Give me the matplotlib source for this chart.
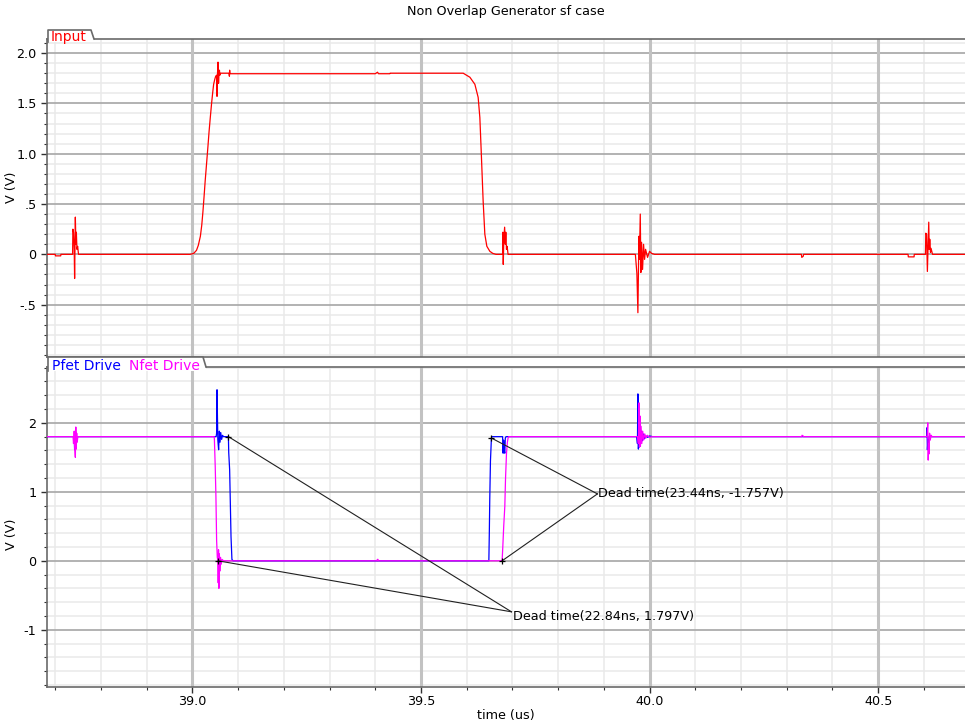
import numpy as np
import matplotlib
matplotlib.use('Agg')
import matplotlib.pyplot as plt
from matplotlib.patches import Polygon
from matplotlib.lines import Line2D
from matplotlib.ticker import MultipleLocator, FixedLocator, FixedFormatter

plt.rcParams['font.family'] = ['DejaVu Sans']

# ---------------- data (time in us, volts) ----------------
input_t = [38.682, 38.700, 38.7005, 38.712, 38.7125,
           38.7380, 38.7386, 38.7400, 38.7415, 38.7424, 38.7440, 38.7452, 38.7462, 38.7475, 38.7490, 38.7510,
           38.995, 39.003, 39.009, 39.013, 39.0175, 39.0205, 39.023, 39.0255, 39.028, 39.031, 39.034,
           39.0365, 39.039, 39.042, 39.0445, 39.0465, 39.049, 39.051,
           39.0530, 39.0539, 39.0545, 39.0561, 39.0572, 39.0583, 39.0592, 39.0600, 39.0611,
           39.080, 39.0810, 39.0815, 39.0822,
           39.400, 39.405, 39.407, 39.432, 39.4325,
           39.5924, 39.607, 39.6179, 39.6251, 39.6288, 39.632, 39.636, 39.6397, 39.6441, 39.6507, 39.657, 39.664,
           39.6785, 39.6792, 39.6800, 39.6812, 39.6830, 39.6845, 39.6856, 39.6870, 39.6885, 39.6905,
           39.9690, 39.9723, 39.9745, 39.9767, 39.9778, 39.9797, 39.9810, 39.9825, 39.9847, 39.9869,
           39.9891, 39.9913, 39.9956, 40.0000, 40.0044, 40.0110,
           40.332, 40.333, 40.336, 40.337,
           40.5655, 40.566, 40.5786, 40.579,
           40.6035, 40.6042, 40.6060, 40.6077, 40.6107, 40.6118, 40.6129, 40.6145, 40.6157, 40.6190, 40.690]
input_v = [0.0, 0.0, -0.015, -0.015, 0.0,
           0.0, 0.25, 0.22, 0.05, -0.24, 0.37, 0.10, 0.22, 0.05, 0.08, 0.0,
           0.0, 0.01, 0.04, 0.09, 0.18, 0.29, 0.42, 0.57, 0.73, 0.90, 1.07,
           1.22, 1.35, 1.50, 1.61, 1.69, 1.74, 1.77,
           1.78, 1.57, 1.75, 1.91, 1.70, 1.80, 1.83, 1.78, 1.80,
           1.80, 1.77, 1.83, 1.795,
           1.795, 1.81, 1.795, 1.795, 1.80,
           1.80, 1.76, 1.69, 1.56, 1.36, 1.0, 0.53, 0.2, 0.08, 0.03, 0.01, 0.0,
           0.0, 0.22, -0.10, 0.15, 0.27, 0.10, 0.22, 0.05, 0.08, 0.0,
           0.0, -0.19, -0.58, 0.18, -0.05, 0.40, -0.18, 0.12, -0.15, 0.10,
           -0.05, 0.05, -0.03, 0.03, 0.01, 0.0,
           0.0, -0.03, -0.02, 0.0,
           0.0, -0.025, -0.025, 0.0,
           0.0, 0.21, 0.20, -0.17, 0.32, 0.05, 0.15, 0.02, 0.06, 0.0, 0.0]

pfet_t = [38.682, 38.7415, 38.7424, 38.7435, 38.7446, 38.7460, 38.7475,
          39.0520, 39.0530, 39.0539, 39.0548, 39.0557, 39.0574, 39.0590, 39.0605, 39.0620, 39.0640, 39.0660, 39.0680,
          39.0788, 39.0795, 39.0815, 39.0830, 39.0845, 39.0865, 39.0890,
          39.6485, 39.6495, 39.6505, 39.6520, 39.6541, 39.6550,
          39.6785, 39.6797, 39.6808, 39.6822, 39.6834, 39.6845, 39.6860,
          39.9720, 39.9735, 39.9745, 39.9756, 39.9767, 39.9778, 39.9790, 39.9805, 39.9820, 39.9840,
          39.9860, 39.9890, 39.9920, 39.9960, 40.0000, 40.0066,
          40.6060, 40.6070, 40.6077, 40.6090, 40.6100, 40.6115, 40.6130, 40.6150, 40.690]
pfet_v = [1.80, 1.80, 1.61, 1.78, 1.66, 1.76, 1.80,
          1.80, 1.85, 2.48, 2.10, 1.75, 1.61, 1.88, 1.72, 1.86, 1.76, 1.82, 1.80,
          1.80, 1.57, 1.32, 0.84, 0.35, 0.02, 0.0,
          0.0, 0.4, 0.9, 1.45, 1.78, 1.80,
          1.80, 1.56, 1.75, 1.60, 1.56, 1.78, 1.80,
          1.80, 1.70, 2.42, 1.62, 2.05, 1.65, 1.95, 1.70, 1.88, 1.74,
          1.84, 1.77, 1.81, 1.79, 1.81, 1.80,
          1.80, 1.93, 1.61, 1.75, 1.68, 1.80, 1.82, 1.80, 1.80]

nfet_t = [38.682, 38.7390, 38.7400, 38.7415, 38.7430, 38.7440, 38.7450, 38.7460, 38.7470, 38.7480, 38.7495,
          39.0478, 39.0482, 39.0500, 39.0515, 39.0530, 39.0545, 39.0560, 39.0565, 39.0572, 39.0580,
          39.0590, 39.0600, 39.0615, 39.0630, 39.0650, 39.0680,
          39.4040, 39.4045, 39.4060, 39.4065,
          39.6775, 39.6790, 39.6810, 39.6834, 39.6850, 39.6871, 39.6890, 39.6906, 39.6920,
          39.9740, 39.9755, 39.9770, 39.9780, 39.9790, 39.9800, 39.9815, 39.9830, 39.9850, 39.9870,
          39.9895, 39.9920, 39.9950, 40.0000, 40.0060,
          40.3330, 40.3335, 40.3360, 40.3365,
          40.6070, 40.6085, 40.6095, 40.6105, 40.6115, 40.6125, 40.6140, 40.6160, 40.6180, 40.690]
nfet_v = [1.80, 1.80, 1.70, 1.88, 1.62, 1.50, 1.94, 1.62, 1.85, 1.72, 1.80,
          1.80, 1.75, 1.36, 0.93, 0.30, 0.05, 0.0, -0.32, 0.16, -0.40,
          0.10, -0.15, 0.05, -0.05, 0.02, 0.0,
          0.0, 0.02, 0.02, 0.0,
          0.0, 0.2, 0.5, 0.79, 1.2, 1.56, 1.72, 1.78, 1.80,
          1.80, 1.70, 2.29, 1.65, 2.10, 1.66, 1.95, 1.70, 1.88, 1.75,
          1.84, 1.78, 1.82, 1.79, 1.80,
          1.80, 1.82, 1.81, 1.80,
          1.80, 2.00, 1.46, 1.70, 1.55, 1.85, 1.75, 1.82, 1.80, 1.80]

# dead-time markers: (pfet point, nfet point) and label anchor
dt1_pts_t = [39.0788, 39.0560]
dt1_pts_v = [1.80, 0.0]
dt1_label = "Dead time(22.84ns, 1.797V)"
dt1_anchor = (39.698, -0.74)
dt2_pts_t = [39.6541, 39.6775]
dt2_pts_v = [1.78, 0.0]
dt2_label = "Dead time(23.44ns, -1.757V)"
dt2_anchor = (39.886, 0.97)

top_yticks = [-0.5, 0.0, 0.5, 1.0, 1.5, 2.0]
top_yticklabels = ['-.5', '0', '.5', '1.0', '1.5', '2.0']
bot_yticks = [-1, 0, 1, 2]
bot_yticklabels = ['-1', '0', '1', '2']
xticks = [39.0, 39.5, 40.0, 40.5]
xticklabels = ['39.0', '39.5', '40.0', '40.5']

# ---------------- figure ----------------
W, H = 965, 725
fig = plt.figure(figsize=(W / 100, H / 100), dpi=100)


def fx(px):
    return px / W


def fy(py):
    return 1 - py / H


ax1 = fig.add_axes([fx(47), fy(357), fx(965) - fx(47), fy(39) - fy(357)])
ax2 = fig.add_axes([fx(47), fy(687), fx(965) - fx(47), fy(367) - fy(687)], sharex=ax1)

FS = 9.2
TAB_FS = 10
spine_c = '#6a6a6a'

ax1.set_ylim(-1.02, 2.14)
ax1.yaxis.set_major_locator(FixedLocator(top_yticks))
ax1.yaxis.set_major_formatter(FixedFormatter(top_yticklabels))
ax1.yaxis.set_minor_locator(MultipleLocator(0.1))

ax2.set_ylim(-1.83, 2.81)
ax2.yaxis.set_major_locator(FixedLocator(bot_yticks))
ax2.yaxis.set_major_formatter(FixedFormatter(bot_yticklabels))
ax2.yaxis.set_minor_locator(MultipleLocator(0.2))

for ax in (ax1, ax2):
    ax.set_xlim(38.682, 40.690)
    ax.xaxis.set_major_locator(FixedLocator(xticks))
    ax.xaxis.set_minor_locator(MultipleLocator(0.1))
    ax.spines['right'].set_visible(False)
    for s in ('left', 'top', 'bottom'):
        ax.spines[s].set_color(spine_c)
        ax.spines[s].set_linewidth(1.2)
    ax.tick_params(axis='both', which='both', direction='out', colors='#303030',
                   labelsize=FS, labelcolor='black')
    ax.tick_params(axis='both', which='major', length=4, width=1)
    ax.tick_params(axis='both', which='minor', length=2.5, width=0.8)
    # grid drawn manually so that major lines stay on top of minor ones
    y0, y1 = ax.get_ylim()
    for t in ax.xaxis.get_minorticklocs():
        ax.axvline(t, color='#e9e9e9', lw=1.1, zorder=0.5)
    for v in ax.yaxis.get_minorticklocs():
        if y0 < v < y1:
            ax.axhline(v, color='#e9e9e9', lw=1.1, zorder=0.5)
    for v in ax.yaxis.get_majorticklocs():
        ax.axhline(v, color='#a6a6a6', lw=1.2, zorder=0.7)
    for t in ax.xaxis.get_majorticklocs():
        ax.axvline(t, color='#c2c2c2', lw=2.2, zorder=0.8)

ax1.tick_params(axis='x', which='both', bottom=False, labelbottom=False)
ax2.xaxis.set_major_formatter(FixedFormatter(xticklabels))
ax2.tick_params(axis='x', which='major', pad=1.5)

# signals
ax1.plot(input_t, input_v, color='#ff0000', lw=0.9, zorder=3)
ax2.plot(pfet_t, pfet_v, color='#0000ff', lw=0.9, zorder=3)
ax2.plot(nfet_t, nfet_v, color='#ff00ff', lw=0.9, zorder=4)

# dead-time annotations
for pts_t, pts_v, anchor, label in ((dt1_pts_t, dt1_pts_v, dt1_anchor, dt1_label),
                                    (dt2_pts_t, dt2_pts_v, dt2_anchor, dt2_label)):
    for t, v in zip(pts_t, pts_v):
        ax2.plot([t, anchor[0]], [v, anchor[1]], color='#202020', lw=0.8, zorder=5)
    ax2.plot(pts_t, pts_v, '+', color='black', ms=5, mew=0.9, zorder=6)

ax2.text(dt1_anchor[0] + 0.004, dt1_anchor[1] - 0.07, dt1_label, fontsize=FS,
         color='black', va='center', ha='left', zorder=7)
ax2.text(dt2_anchor[0] + 0.001, dt2_anchor[1], dt2_label, fontsize=FS,
         color='black', va='center', ha='left', zorder=7)


# tabs (legend labels): white body reaching a little below the axes border,
# outline drawn only on top/left/slanted right edge
def tab(outline_px, bottom_px, texts):
    (xl, yb), (_, yt), (xr, _), (xs, ys) = outline_px
    body = [(xl, bottom_px), (xl, yt), (xr, yt), (xs, ys), (xs, bottom_px)]
    fig.add_artist(Polygon([(fx(x), fy(y)) for x, y in body], closed=True,
                           facecolor='white', edgecolor='none',
                           transform=fig.transFigure, zorder=10))
    fig.add_artist(Line2D([fx(x) for x, _ in outline_px], [fy(y) for _, y in outline_px],
                          color=spine_c, lw=1.2, transform=fig.transFigure, zorder=11))
    for (x, y, s, c) in texts:
        fig.text(fx(x), fy(y), s, color=c, fontsize=TAB_FS, va='baseline', ha='left', zorder=12)


tab([(48, 42), (48, 30), (91, 30), (94, 39)], 42, [(51, 41.5, 'Input', '#ff0000')])
tab([(48, 371), (48, 357), (203, 357), (206, 367)], 371,
    [(52, 369.5, 'Pfet Drive', '#0000ff'), (129, 369.5, 'Nfet Drive', '#ff00ff')])

# titles and labels
fig.text(fx(506), fy(12), 'Non Overlap Generator sf case', fontsize=FS, ha='center', va='center')
fig.text(fx(12), fy(187), 'V (V)', fontsize=FS, rotation=90, ha='center', va='center')
fig.text(fx(12), fy(534), 'V (V)', fontsize=FS, rotation=90, ha='center', va='center')
fig.text(fx(506), fy(716), 'time (us)', fontsize=FS, ha='center', va='center')

fig.savefig('out.png', dpi=100)
